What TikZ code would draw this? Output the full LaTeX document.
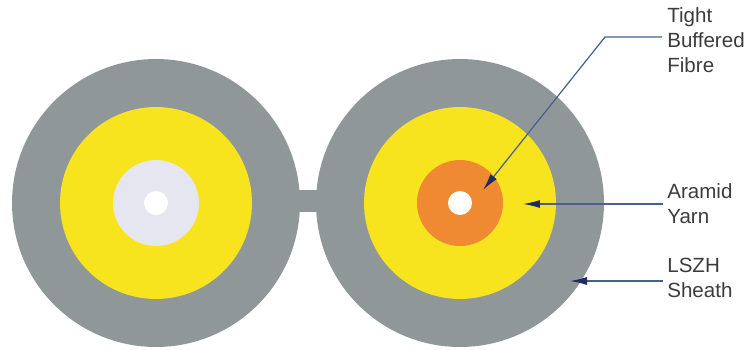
\documentclass[tikz,border=0pt]{standalone}
\usepackage{xcolor}
\usepackage{fontspec}
\setmainfont{Liberation Sans}
\usepackage{tikz}
\usetikzlibrary{arrows.meta, positioning}
\definecolor{SheathGrey}{RGB}{143,151,153}
\definecolor{YarnYellow}{RGB}{247,227,30}
\definecolor{FibreOrange}{RGB}{240,138,50}
\definecolor{FibrePale}{RGB}{230,230,240}
\definecolor{LeaderBlue}{RGB}{72,96,140}
\definecolor{TipNavy}{RGB}{30,45,95}
\definecolor{LabelGrey}{RGB}{60,60,60}

\begin{document}
\begin{tikzpicture}[
    x=0.02cm, y=-0.02cm,
    ring/.style={circle, inner sep=0pt, outer sep=0pt},
    sheath/.style={ring, fill=SheathGrey, minimum size=5.76cm},
    yarn/.style={ring, fill=YarnYellow, minimum size=3.84cm},
    core/.style={ring, minimum size=1.72cm},
    hole/.style={ring, fill=white, minimum size=0.48cm},
    label/.style={text=LabelGrey, align=left, anchor=west, inner sep=0pt, font=\fontsize{11.7}{14.1}\selectfont},
    leader/.style={draw=LeaderBlue, line width=0.7pt, -{Latex[length=0.34cm, width=0.16cm, color=TipNavy]}}
]
\useasboundingbox (0,0) rectangle (748,349);

\fill[SheathGrey] (290,190) rectangle (326,212);

\node[sheath] (sheathL) at (156,203) {};
\node[yarn] (yarnL) at (156,203) {};
\node[core, fill=FibrePale] (coreL) at (156,203) {};
\node[hole] (holeL) at (156,203) {};

\node[sheath] (sheathR) at (460,203) {};
\node[yarn] (yarnR) at (460,203) {};
\node[core, fill=FibreOrange] (coreR) at (460,203) {};
\node[hole] (holeR) at (460,203) {};

\node[label] (tight) at (667,40) {Tight\\Buffered\\Fibre};
\node[label] (aramid) at (667,204) {Aramid\\Yarn};
\node[label] (lszh) at (667,278) {LSZH\\Sheath};

\coordinate (bend) at (605,37);
\coordinate (tipCore) at (483,190);
\coordinate (tipYarn) at (523,204);
\coordinate (tipSheath) at (570,281);

\draw[leader] ([xshift=-0.1cm]tight.west |- bend) -- (bend) -- (tipCore);
\draw[leader] ([xshift=-0.08cm]aramid.west) -- (tipYarn);
\draw[leader] ([xshift=-0.08cm]lszh.west |- tipSheath) -- (tipSheath);
\end{tikzpicture}
\end{document}
